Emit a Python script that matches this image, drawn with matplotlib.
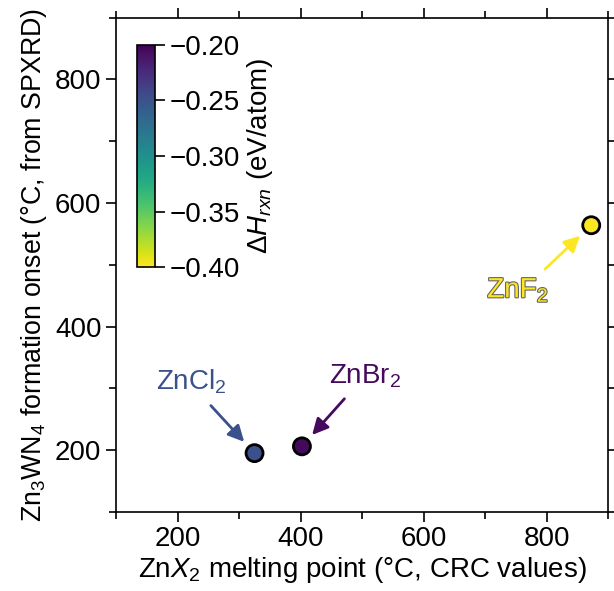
import numpy as np
import matplotlib
matplotlib.use("Agg")
import matplotlib.pyplot as plt
import matplotlib.patheffects as pe
from matplotlib.ticker import MultipleLocator, FuncFormatter

plt.rcParams['font.family'] = ['Liberation Sans', 'DejaVu Sans']
plt.rcParams['mathtext.fontset'] = 'custom'
plt.rcParams['mathtext.rm'] = 'Liberation Sans'
plt.rcParams['mathtext.it'] = 'Liberation Sans:italic'
plt.rcParams['axes.unicode_minus'] = True

# precursors: melting point vs. onset temperature, coloured by reaction enthalpy
labels = ['ZnCl$_2$', 'ZnBr$_2$', 'ZnF$_2$']
melt_pt = [325, 402, 872]
onset = [195, 206, 564]
dH_rxn = [-0.25, -0.205, -0.40]

# label positions and arrow tails (data coords)
label_xy = [(223, 311), (505, 320), (753, 459)]
arrow_start = [(254, 272), (471, 283), (797, 493)]

FS = 20

fig = plt.figure(figsize=(6.14, 5.91), dpi=100)
ax = fig.add_axes([0.189, 0.134, 0.802, 0.836])

cmap = plt.get_cmap('viridis_r')
norm = plt.Normalize(-0.40, -0.20)

sc = ax.scatter(melt_pt, onset, c=dH_rxn, cmap=cmap, norm=norm, s=150,
                edgecolors='black', linewidths=2, zorder=3)

for lab, x, y, v, (tx, ty), (sx, sy) in zip(labels, melt_pt, onset, dH_rxn,
                                            label_xy, arrow_start):
    col = cmap(norm(v))
    t = ax.text(tx, ty, lab, color=col, fontsize=20, ha='center', va='center')
    if v <= -0.39:
        t.set_path_effects([pe.withStroke(linewidth=1.6, foreground='#666666')])
    ax.annotate('', xy=(x, y), xytext=(sx, sy),
                arrowprops=dict(arrowstyle='-|>', color=col, lw=2.0,
                                mutation_scale=24, shrinkA=0, shrinkB=11))

ax.set_xlim(100, 900)
ax.set_ylim(100, 900)
ax.xaxis.set_major_locator(MultipleLocator(200))
ax.xaxis.set_minor_locator(MultipleLocator(100))
ax.yaxis.set_major_locator(MultipleLocator(200))
ax.yaxis.set_minor_locator(MultipleLocator(100))
ax.tick_params(which='both', direction='out', top=True, right=True,
               labelsize=FS, width=1.2)
ax.tick_params(which='major', length=7)
ax.tick_params(which='minor', length=5)
for s in ax.spines.values():
    s.set_linewidth(1.2)

ax.set_xlabel('Zn$\\mathit{X}_2$ melting point (°C, CRC values)', fontsize=FS,
              labelpad=2)
ax.set_ylabel('Zn$_3$WN$_4$ formation onset (°C, from SPXRD)', fontsize=19.3)

cax = fig.add_axes([0.223, 0.548, 0.029, 0.376])
cb = fig.colorbar(sc, cax=cax, ticks=[-0.40, -0.35, -0.30, -0.25, -0.20])
cb.ax.tick_params(labelsize=FS, length=7, width=1.2)
cb.outline.set_linewidth(1.2)
cb.ax.yaxis.set_major_formatter(FuncFormatter(lambda v, p: f'{v:.2f}'.replace('-', '\u2212')))
cb.set_label('$\\Delta\\mathit{H}_{\\mathit{rxn}}$ (eV/atom)', fontsize=FS)

fig.savefig('out.png', dpi=100)
